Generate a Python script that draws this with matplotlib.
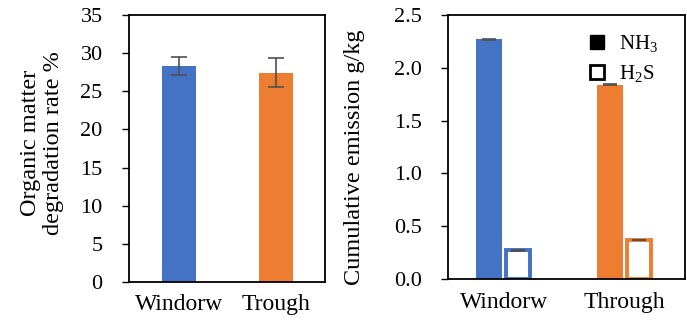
import numpy as np
import matplotlib.pyplot as plt
from matplotlib.patches import Patch

plt.rcParams['font.family'] = ['Liberation Serif', 'DejaVu Serif']
plt.rcParams['mathtext.fontset'] = 'custom'
plt.rcParams['mathtext.rm'] = 'Liberation Serif'

# degradation rate
deg_labels = ['Windorw', 'Trough']
deg_values = [28.3, 27.4]
deg_err = [1.2, 1.9]

# cumulative gas emission
emis_labels = ['Windorw', 'Through']
nh3_values = [2.27, 1.84]
nh3_err = [0.005, 0.005]
h2s_values = [0.27, 0.37]
h2s_err = [0.004, 0.004]

colors = ['#4472C4', '#ED7D31']
err_kw = dict(ecolor='#505050', capsize=6, elinewidth=1.2, capthick=1.2)

fig = plt.figure(figsize=(6.87, 3.23), dpi=100)

# left panel
ax1 = fig.add_axes([0.1878, 0.127, 0.2853, 0.8266])
x = np.arange(len(deg_labels))
ax1.bar(x, deg_values, width=0.35, color=colors, yerr=deg_err, error_kw=err_kw)
ax1.set_xlim(-0.515, 1.505)
ax1.set_ylim(0, 35)
ax1.set_yticks(range(0, 36, 5))
ax1.set_xticks(x)
ax1.set_xticklabels(deg_labels)
ax1.set_ylabel('Organic matter\ndegradation rate %', fontsize=17.5, linespacing=1.15)
ax1.yaxis.set_label_coords(-0.33, 0.52)
ax1.tick_params(axis='y', labelsize=16, direction='out', length=5, width=1, pad=14)
ax1.tick_params(axis='x', labelsize=17, length=0, pad=9)
for s in ax1.spines.values():
    s.set_linewidth(1.3)

# right panel
ax2 = fig.add_axes([0.6521, 0.1362, 0.345, 0.8173])
w = 0.22
x2 = np.arange(len(emis_labels))
ax2.bar(x2 - 0.12, nh3_values, width=w, color=colors, yerr=nh3_err,
        error_kw=dict(err_kw, capsize=5))
ax2.bar(x2 + 0.12, h2s_values, width=0.2, color='white',
        edgecolor=colors, linewidth=2.8, yerr=h2s_err,
        error_kw=dict(err_kw, capsize=5))
ax2.set_xlim(-0.46, 1.5)
ax2.set_ylim(0, 2.5)
yt = np.arange(0, 2.51, 0.5)
ax2.set_yticks(yt)
ax2.set_yticklabels([f'{v:.1f}' for v in yt])
ax2.set_xticks(x2)
ax2.set_xticklabels(emis_labels)
ax2.set_ylabel('Cumulative emission g/kg', fontsize=17.5)
ax2.yaxis.set_label_coords(-0.35, 0.46)
ax2.tick_params(axis='y', labelsize=16, direction='out', length=5, width=1, pad=14)
ax2.tick_params(axis='x', labelsize=17, length=0, pad=9)
for s in ax2.spines.values():
    s.set_linewidth(1.3)

handles = [Patch(facecolor='black', edgecolor='black'),
           Patch(facecolor='white', edgecolor='black', linewidth=2)]
ax2.legend(handles, ['NH$_3$', 'H$_2$S'], loc='upper left',
           bbox_to_anchor=(0.6, 0.93), frameon=False, fontsize=15,
           handlelength=0.65, handleheight=0.65, handletextpad=0.75,
           borderaxespad=0, borderpad=0, labelspacing=0.4)

fig.savefig('out.png', dpi=100)
